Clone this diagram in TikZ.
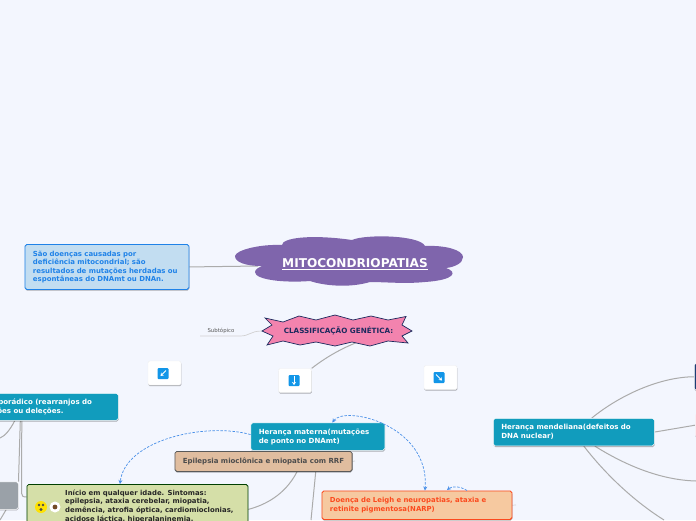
\documentclass[tikz,border=0pt]{standalone}
\usepackage{fontspec}
\setmainfont{DejaVu Sans}
\usetikzlibrary{arrows.meta,shadows}
\pgfdeclarelayer{under}
\pgfsetlayers{under,main}
\definecolor{bgc}{HTML}{F3F6FE}
\definecolor{tealb}{HTML}{119CBD}
\definecolor{lnk}{HTML}{4A90E8}
\definecolor{purp}{HTML}{7F65AC}
\definecolor{infof}{HTML}{C2DDF1}
\definecolor{infod}{HTML}{1F82E8}
\definecolor{tanf}{HTML}{E0BD9F}
\definecolor{grnf}{HTML}{D5DFA8}
\definecolor{orgf}{HTML}{F6C9A0}
\definecolor{orgd}{HTML}{FB4A1E}
\definecolor{pinkf}{HTML}{F383AE}
\definecolor{navyd}{HTML}{1B2A5E}
\definecolor{navyb}{HTML}{1C3D75}
\definecolor{btnb}{HTML}{1296E8}
\definecolor{gryf}{HTML}{9AA1A8}
\definecolor{palep}{HTML}{F9EEF4}
\tikzset{
 x=1pt,y=-1pt,
 softshadow/.style={drop shadow={shadow xshift=0.3pt,shadow yshift=-1.2pt,opacity=.3,fill=black}},
 conn/.style={draw=black!33,line width=1pt},
 thinconn/.style={draw=black!18,line width=.7pt},
 dashlink/.style={draw=lnk,line width=.7pt,dash pattern=on 2.5pt off 1.5pt,-{Stealth[length=4pt,width=4pt]}},
 dashboth/.style={dashlink,{Stealth[length=4pt,width=4pt]}-{Stealth[length=4pt,width=4pt]}},
 boxbase/.style={rounded corners=1.8pt,anchor=north west,align=left,inner xsep=8pt,inner ysep=0pt,softshadow},
 tealbox/.style={boxbase,draw=white,line width=.6pt,fill=tealb,text=white,font=\bfseries\fontsize{7.05}{9}\selectfont},
 iconbtn/.style={draw=black!6,line width=.4pt,fill=white,rounded corners=1.5pt,minimum width=33pt,minimum height=24pt,inner sep=0pt,softshadow},
 iconarrow/.style={white,line width=1pt,-{Stealth[length=3pt,width=4pt]}},
}
\newcommand{\btnicon}[3]{%
 \fill[btnb,rounded corners=1pt] (#1-5.5,#2-5.5) rectangle (#1+5.5,#2+5.5);
 \draw[iconarrow] #3;
}
\begin{document}
\begin{tikzpicture}
\useasboundingbox (0,0) rectangle (696,520);
\begin{pgfonlayer}{under}
\fill[bgc] (0,0) rectangle (696,520);
\end{pgfonlayer}

% purple cloud
\fill[purp] (235,256)
 .. controls (236,250) and (260,244) .. (282,245)
 .. controls (282,238) and (310,234) .. (352,240)
 .. controls (365,234) and (420,235) .. (425,246)
 .. controls (445,245) and (463,250) .. (463,257)
 .. controls (463,263) and (455,267) .. (446,268)
 .. controls (458,272) and (455,280) .. (425,282)
 .. controls (405,284) and (385,282) .. (370,282)
 .. controls (350,288) and (325,286) .. (310,281)
 .. controls (285,283) and (255,280) .. (255,272)
 .. controls (255,269) and (260,267) .. (262,266)
 .. controls (245,266) and (235,262) .. (235,256) -- cycle;
\node[font=\bfseries\fontsize{12.1}{14}\selectfont,text=white,inner sep=0pt] (title) at (355,264) {\underline{MITOCONDRIOPATIAS}};

% left info box
\node[boxbase,draw=infod,line width=.9pt,fill=infof,text=infod,font=\bfseries\fontsize{6.95}{8.6}\selectfont,minimum width=164pt,minimum height=45pt,text width=148pt] (info) at (24.5,244) {São doenças causadas por\\deficiência mitocondrial; são\\resultados de mutações herdadas ou\\espontâneas do DNAmt ou DNAn.};

% Subtópico
\node[font=\fontsize{5.4}{7}\selectfont,text=black!65,inner sep=0pt] (subt) at (221,331) {Subtópico};

% star
\draw[draw=navyd,line width=.7pt,fill=pinkf]
 (265,318) -- (283,322) -- (299,316) -- (316,320) -- (335,315) -- (353,320) -- (371,316) -- (388,320) -- (406,316.5)
 -- (402,325) -- (412,331) -- (402,336) -- (408,343) -- (388,341) -- (370,346) -- (352,342) -- (335,346) -- (316,342) -- (300,345) -- (283,341) -- (267,345) -- (273,336) -- (262,331) -- (272,325) -- cycle;
\node[font=\bfseries\fontsize{7.2}{8}\selectfont,text=navyd,inner sep=0pt] (star) at (338.5,331) {CLASSIFICAÇÃO GENÉTICA:};

% icon buttons
\node[iconbtn] (b1) at (164.5,373) {};
\node[iconbtn] (b2) at (295,380.5) {};
\node[iconbtn] (b3) at (440.5,377.5) {};
\btnicon{163}{373.5}{(166,370.5) -- (160.5,376)}
\btnicon{294}{380.5}{(294,376) -- (294,385)}
\btnicon{439}{377.5}{(436,374.5) -- (442,380.5)}

% teal boxes
\node[tealbox,minimum width=137pt,minimum height=27pt,text width=121pt] (spo) at (-19,393) {Esporádico (rearranjos do\\\hspace*{-25pt}duplicações ou deleções.};
\node[tealbox,minimum width=134pt,minimum height=27.5pt,text width=118pt] (mat) at (250.5,422.5) {Herança materna(mutações\\de ponto no DNAmt)};
\node[tealbox,minimum width=161pt,minimum height=27.5pt,text width=145pt] (men) at (493,418) {Herança mendeliana(defeitos do\\DNA nuclear)};

% tan box
\node[boxbase,draw=black!65,line width=.8pt,fill=tanf,text=black!70,font=\bfseries\fontsize{7}{8}\selectfont,minimum width=176pt,minimum height=20pt] (tan) at (174.5,451) {Epilepsia mioclônica e miopatia com RRF};

% green box
\node[boxbase,draw=green!25!black,line width=.8pt,fill=grnf,minimum width=221pt,minimum height=50pt] (gr) at (26.5,484) {};
\node[text=black!85,font=\bfseries\fontsize{6.9}{8.7}\selectfont,align=left,anchor=north west,inner sep=0pt] (grt) at (65,489.5) {Início em qualquer idade. Sintomas:\\epilepsia, ataxia cerebelar, miopatia,\\demência, atrofia óptica, cardiomioclonias,\\acidose láctica, hiperalaninemia.};
\node[circle,fill=yellow!85!orange,minimum size=12pt,inner sep=0pt] (face) at (41,507) {};
\fill[black!70] (39,505) circle (1.3) (43,505) circle (1.3) (41,509.5) circle (1.6);
\node[circle,fill=white,minimum size=11pt,inner sep=0pt] (eye) at (55,507) {};
\fill[brown!60!black] (55,507) circle (2.4);

% grey box
\node[boxbase,fill=gryf,draw=white,line width=.5pt,minimum width=24pt,minimum height=27.5pt] (gry) at (-6,481.5) {};

% orange box
\node[boxbase,draw=orgd,line width=.9pt,fill=orgf,text=orgd,font=\bfseries\fontsize{6.9}{8.8}\selectfont,minimum width=190pt,minimum height=28.5pt,text width=174pt] (org) at (321.5,490.5) {Doença de Leigh e neuropatias, ataxia e\\retinite pigmentosa(NARP)};

% right boxes at the edge
\node[boxbase,fill=navyb,draw=white,line width=.5pt,minimum width=30pt,minimum height=27pt] (navy) at (694,363) {};
\node[boxbase,fill=palep,draw=none,minimum width=30pt,minimum height=24pt] (pale) at (695,413) {};

% free ends
\coordinate (e2) at (696,481);
\coordinate (e3) at (664,520);
\coordinate (e4) at (0,438);
\coordinate (e5) at (311,520);
\coordinate (e6) at (200,336);
\coordinate (e7) at (240,336);
\coordinate (e8) at (355,461);
\coordinate (e9) at (516,505);
\coordinate (e10) at (0,520);
\coordinate (e11) at (467,490.5);

\begin{pgfonlayer}{under}
\draw[conn] (info.east) -- (258,266);
\draw[thinconn] (e6) -- (e7) .. controls (250,336) and (250,331) .. (262,331);
\draw[conn] (b2.north east) .. controls (325,358) and (340,349) .. (358,342);
\draw[conn] ([xshift=-29.5pt]spo.south) -- (gry.north east);
\draw[conn] ([xshift=-28pt]spo.south) -- (21.5,493) .. controls (21.5,496) and (23,497) .. (gr.west |- 0,497);
\draw[conn] ([xshift=-35pt]spo.south) .. controls (10,430) and (5,436) .. (e4);
\draw[conn] (gry.south) -- (e10);
\draw[conn] ([xshift=33.5pt]tan.south) .. controls (285,495) and (265,505) .. (gr.east);
\draw[conn] (mat.south) -- (e5);
\draw[thinconn] (tan.east) -- (e8);
\draw[thinconn] (org.east) -- (e9);
\draw[conn] ([xshift=18pt]men.north) .. controls (620,395) and (660,377) .. (navy.west);
\draw[conn] (men.east) -- (pale.west);
\draw[conn] ([xshift=21pt]men.south) .. controls (625,465) and (660,480) .. (e2);
\draw[conn] ([xshift=10pt]men.south) .. controls (610,480) and (640,505) .. (e3);
\end{pgfonlayer}

% dashed links
\draw[dashlink] ([yshift=2pt]mat.west) .. controls (205,422) and (125,440) .. (120,484);
\draw[dashboth] ([xshift=14.5pt]mat.north) .. controls (345,405) and (430,425) .. ([xshift=8pt]org.north);
\draw[dashlink] (e11) .. controls (460,486) and (452,486) .. (447,490);
\end{tikzpicture}
\end{document}
